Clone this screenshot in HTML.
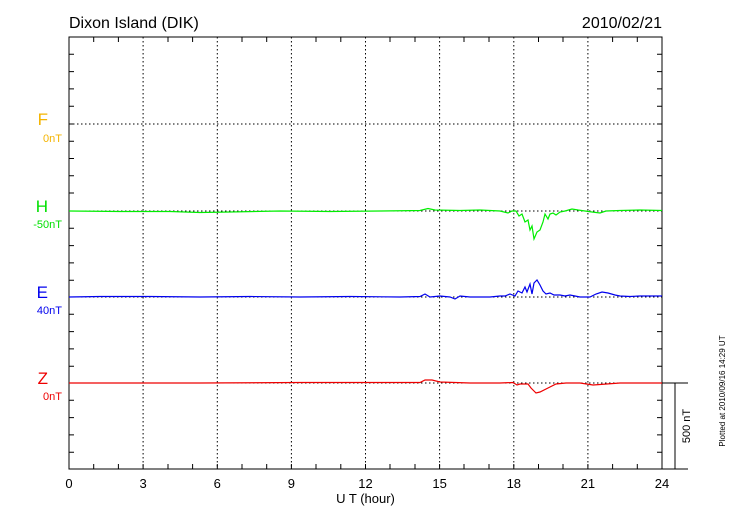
<!DOCTYPE html>
<html><head><style>body{margin:0;background:#fff}svg{display:block}text{font-family:"Liberation Sans",sans-serif}</style></head>
<body>
<svg width="730" height="520" viewBox="0 0 730 520" xmlns="http://www.w3.org/2000/svg">
<rect width="730" height="520" fill="#fff"/>
<text x="69" y="28" font-size="16">Dixon Island (DIK)</text>
<text x="662" y="28" font-size="16" text-anchor="end">2010/02/21</text>
<g stroke="#000" stroke-dasharray="1.5,2.5" stroke-width="1">
<line x1="143.1" y1="37" x2="143.1" y2="469"/><line x1="217.3" y1="37" x2="217.3" y2="469"/><line x1="291.4" y1="37" x2="291.4" y2="469"/><line x1="365.5" y1="37" x2="365.5" y2="469"/><line x1="439.6" y1="37" x2="439.6" y2="469"/><line x1="513.8" y1="37" x2="513.8" y2="469"/><line x1="587.9" y1="37" x2="587.9" y2="469"/>
<line x1="69" y1="124" x2="662" y2="124"/><line x1="69" y1="211" x2="662" y2="211"/><line x1="69" y1="297" x2="662" y2="297"/><line x1="69" y1="383" x2="662" y2="383"/>
</g>
<g stroke="#000" stroke-width="1" fill="none">
<rect x="69" y="37" width="593" height="432"/>
<line x1="662" y1="383" x2="688" y2="383"/><line x1="662" y1="469" x2="688" y2="469"/><line x1="675" y1="383" x2="675" y2="469"/>
<path id="tk" d="M93.7 37v5M118.4 37v5M168 37v5M192.6 37v5M242 37v5M266.7 37v5M316 37v5M340.8 37v5M390 37v5M415 37v5M464 37v5M489 37v5M538.5 37v5M563 37v5M612.6 37v5M637.3 37v5
M93.7 469v-5M118.4 469v-5M143.1 469v-5M168 469v-5M192.6 469v-5M217.3 469v-5M242 469v-5M266.7 469v-5M291.4 469v-5M316 469v-5M340.8 469v-5M365.5 469v-5M390 469v-5M415 469v-5M439.6 469v-5M464 469v-5M489 469v-5M513.8 469v-5M538.5 469v-5M563 469v-5M587.9 469v-5M612.6 469v-5M637.3 469v-5"/>
<path d="M69 54.3h5M69 71.6h5M69 88.9h5M69 106.2h5M69 124h5M69 141.2h5M69 158.5h5M69 175.8h5M69 193h5M69 228.3h5M69 245.6h5M69 262.9h5M69 280.2h5M69 314.3h5M69 331.6h5M69 348.9h5M69 366.2h5M69 400.3h5M69 417.6h5M69 434.9h5M69 452.2h5
M662 54.3h-5M662 71.6h-5M662 88.9h-5M662 106.2h-5M662 124h-5M662 141.2h-5M662 158.5h-5M662 175.8h-5M662 193h-5M662 228.3h-5M662 245.6h-5M662 262.9h-5M662 280.2h-5M662 314.3h-5M662 331.6h-5M662 348.9h-5M662 366.2h-5M662 400.3h-5M662 417.6h-5M662 434.9h-5M662 452.2h-5"/>
</g>
<g font-size="13" text-anchor="middle">
<text x="69" y="488">0</text><text x="143.1" y="488">3</text><text x="217.3" y="488">6</text><text x="291.4" y="488">9</text><text x="365.5" y="488">12</text><text x="439.6" y="488">15</text><text x="513.8" y="488">18</text><text x="587.9" y="488">21</text><text x="662" y="488">24</text>
<text x="365.5" y="503">U T (hour)</text>
</g>
<text transform="translate(690,426) rotate(-90)" font-size="11" text-anchor="middle">500 nT</text>
<text transform="translate(725,391) rotate(-90)" font-size="8" text-anchor="middle">Plotted at 2010/09/16 14:29 UT</text>
<g text-anchor="end">
<text x="48" y="125" font-size="17" fill="#f4b400">F</text><text x="62" y="142" font-size="11" fill="#f4b400">0nT</text>
<text x="48" y="212" font-size="17" fill="#00e000">H</text><text x="62" y="228" font-size="11" fill="#00e000">-50nT</text>
<text x="48" y="298" font-size="17" fill="#0000ee">E</text><text x="62" y="314" font-size="11" fill="#0000ee">40nT</text>
<text x="48" y="384" font-size="17" fill="#ee0000">Z</text><text x="62" y="400" font-size="11" fill="#ee0000">0nT</text>
</g>
<g fill="none" stroke-width="1.2">
<path stroke="#00ee00" d="M69 211L120 211.5L170 211.5L200 212.5L230 212L280 211L330 211.5L380 211L420 210.5L428 208.5L435 210L460 210.5L480 210L500 211L508 213L512 211L516 211L519 216L522 214L525 222L528 220L530 230L532 226L534 239L537 232L540 230L543 222L545 214L548 219L550 214L553 213L556 215L560 212L565 211L572 209L578 210L585 211L592 212L600 213L606 211L620 210.5L640 210L662 210.5"/>
<path stroke="#0000ee" d="M69 297L100 296.5L150 296.5L200 297L250 296.5L300 297L350 296.5L400 297L420 296.5L425 294L430 297L440 296L450 297L455 299L460 296L470 297L490 297L500 296L505 296L510 294L515 296L518 291L522 293L525 287L527 292L530 284L532 294L534 283L537 280L540 285L543 291L546 294L550 293L554 295L560 295L565 296L570 295L575 296L580 297L590 297L596 294L602 292L608 293L615 295L620 296L630 296.5L640 296L662 296"/>
<path stroke="#ee0000" d="M69 383L200 383L300 382.5L400 382.5L420 382.5L425 380L432 380L440 382L470 383L500 383L513 382.5L517 385L520 384L528 384L531 388L536 393L540 392L548 388L556 384L566 383L580 383L593 385L600 384.5L620 383L662 383"/>
</g>
</svg>
</body></html>
